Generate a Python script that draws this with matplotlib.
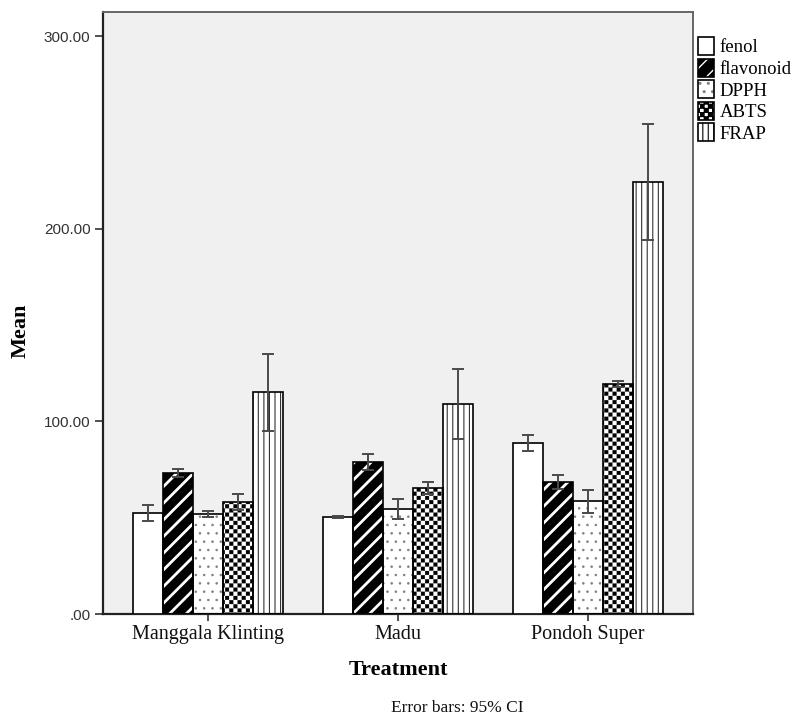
import warnings
warnings.filterwarnings("ignore")
import numpy as np
import matplotlib
matplotlib.use("Agg")
import matplotlib.pyplot as plt
import matplotlib.hatch as mhatch
from matplotlib.path import Path
from matplotlib.patches import Rectangle
from matplotlib.legend_handler import HandlerTuple

# ---------------- data ----------------
treatments = ["Manggala Klinting", "Madu", "Pondoh Super"]
series = ["fenol", "flavonoid", "DPPH", "ABTS", "FRAP"]
fenol = [52.4, 50.3, 88.7]
flavonoid = [73.2, 78.9, 68.5]
dpph = [51.9, 54.5, 58.6]
abts = [58.1, 65.4, 119.4]
frap = [115.2, 109.0, 224.2]
fenol_ci = [4.0, 0.6, 4.0]
flavonoid_ci = [2.0, 4.0, 3.5]
dpph_ci = [1.5, 5.0, 6.0]
abts_ci = [4.0, 3.0, 1.5]
frap_ci = [20.0, 18.0, 30.0]
yticks = [0, 100, 200, 300]
ytick_labels = [".00", "100.00", "200.00", "300.00"]


# ---------------- custom checkerboard hatch ----------------
class CheckerHatch(mhatch.HatchPatternBase):
    def __init__(self, hatch, density):
        self.n = hatch.count('c') * 24
        self.num_vertices = (self.n * self.n // 2) * 5 if self.n else 0

    def set_vertices_and_codes(self, vertices, codes):
        n = self.n
        s = 1.0 / n
        e = 0.002
        k = 0
        for i in range(n):
            for j in range(n):
                if (i + j) % 2 == 0:
                    x0, y0 = j * s + e, i * s + e
                    x1, y1 = (j + 1) * s - e, (i + 1) * s - e
                    vertices[k:k + 5] = [[x0, y0], [x1, y0], [x1, y1], [x0, y1], [x0, y0]]
                    codes[k:k + 5] = [Path.MOVETO, Path.LINETO, Path.LINETO,
                                      Path.LINETO, Path.CLOSEPOLY]
                    k += 5


mhatch._hatch_types.append(CheckerHatch)

serif = ["Liberation Serif", "DejaVu Serif"]
sans = ["Liberation Sans", "DejaVu Sans"]

fig = plt.figure(figsize=(8.0, 7.19), dpi=100)
ax = fig.add_axes([103 / 800, 1 - 614 / 719, 590 / 800, 602 / 719])
ax.set_facecolor("#f0f0f0")

x = np.arange(len(treatments))
w = 0.158
values = [fenol, flavonoid, dpph, abts, frap]
cis = [fenol_ci, flavonoid_ci, dpph_ci, abts_ci, frap_ci]

styles = [
    dict(face="white", hatch=None, hcolor=None, hlw=1.0),
    dict(face="black", hatch="//", hcolor="white", hlw=2.0),
    dict(face="white", hatch="..", hcolor="#808080", hlw=0.6),
    dict(face="white", hatch="c", hcolor="black", hlw=0.2),
    dict(face="white", hatch="|||", hcolor="#333333", hlw=0.8),
]


def set_hlw(p, lw):
    if hasattr(p, "set_hatch_linewidth"):
        p.set_hatch_linewidth(lw)


handles = []
for j, (vals, ci, st) in enumerate(zip(values, cis, styles)):
    pos = x + (j - 2) * w
    if st["hatch"] is not None:
        with plt.rc_context({"hatch.linewidth": st["hlw"]}):
            hb = ax.bar(pos, vals, w, color=st["face"], edgecolor=st["hcolor"],
                        linewidth=0, hatch=st["hatch"], zorder=2)
            for p in hb:
                set_hlw(p, st["hlw"])
    ax.bar(pos, vals, w, facecolor=st["face"] if st["hatch"] is None else "none",
           edgecolor="black", linewidth=1.2, zorder=3)
    ax.errorbar(pos, vals, yerr=ci, fmt="none", ecolor="#4a4a4a", elinewidth=1.4,
                capsize=4.5, capthick=1.4, zorder=4)
    # legend handle
    with plt.rc_context({"hatch.linewidth": st["hlw"]}):
        if st["hatch"] is not None:
            h1 = Rectangle((0, 0), 1, 1, facecolor=st["face"], edgecolor=st["hcolor"],
                           linewidth=0, hatch=st["hatch"])
            set_hlw(h1, st["hlw"])
            h2 = Rectangle((0, 0), 1, 1, facecolor="none", edgecolor="black", linewidth=1.2)
            handles.append((h1, h2))
        else:
            handles.append(Rectangle((0, 0), 1, 1, facecolor="white", edgecolor="black",
                                     linewidth=1.2))

ax.set_xlim(-0.553, 2.553)
ax.set_ylim(0, 312.5)
ax.set_yticks(yticks)
ax.set_yticklabels(ytick_labels, fontfamily=sans, fontsize=11, color="#333333")
ax.set_xticks(x)
ax.set_xticklabels(treatments, fontfamily=serif, fontsize=14.5, color="#111111")
ax.tick_params(axis="y", length=6, width=1.2, color="#333333", pad=3)
ax.tick_params(axis="x", length=5, width=1.2, color="#333333", pad=3)

for side in ["left", "bottom"]:
    ax.spines[side].set_color("#222222")
    ax.spines[side].set_linewidth(1.6)
for side in ["top", "right"]:
    ax.spines[side].set_color("#666666")
    ax.spines[side].set_linewidth(1.4)

ax.set_xlabel("Treatment", fontfamily=serif, fontsize=16, fontweight="bold")
ax.xaxis.set_label_coords(0.5, -56 / 602)
ax.xaxis.label.set_va("center")
ax.set_ylabel("Mean", fontfamily=serif, fontsize=16, fontweight="bold")
ax.yaxis.set_label_coords(-82 / 590, 0.47)
ax.yaxis.label.set_va("center")

fig.text(457 / 800, 1 - 708 / 719, "Error bars: 95% CI", fontfamily=serif,
         fontsize=12.5, ha="center", va="center", color="#111111")

leg = fig.legend(handles, series, loc="upper left", bbox_to_anchor=(696 / 800, 1 - 35 / 719),
                 frameon=False, prop={"family": serif, "size": 13.5},
                 handler_map={tuple: HandlerTuple(ndivide=1)},
                 handlelength=0.85, handleheight=1.1, handletextpad=0.3,
                 labelspacing=0.12, borderaxespad=0, borderpad=0.1)

fig.savefig("out.png", dpi=100)
